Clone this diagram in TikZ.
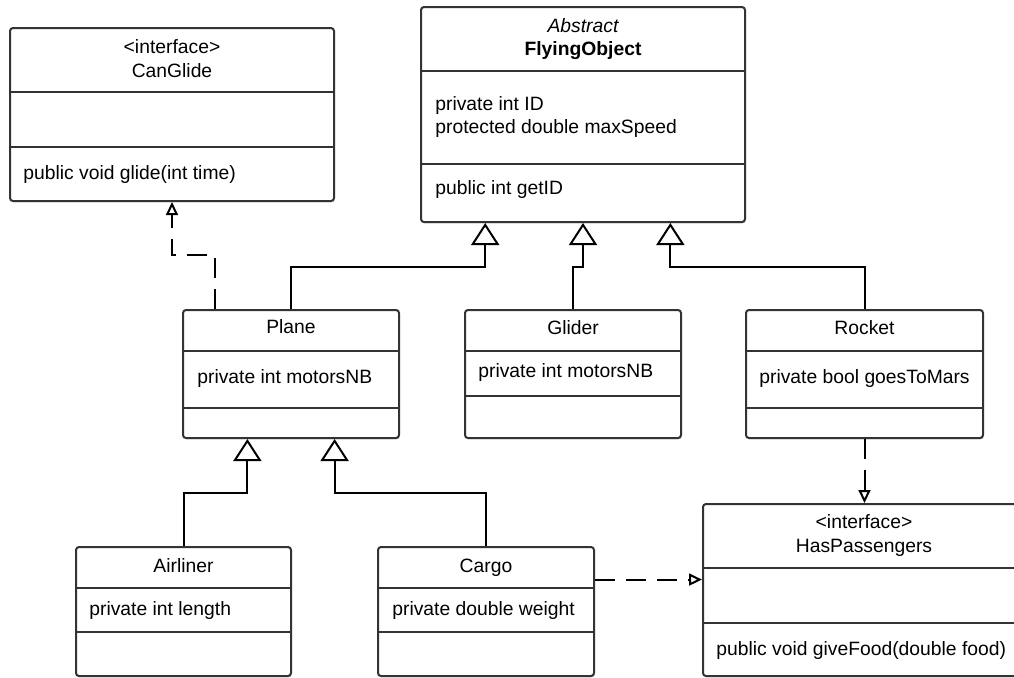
\documentclass[tikz,border=0pt]{standalone}
\usepackage{fontspec}
\setmainfont{Liberation Sans}
\usetikzlibrary{arrows.meta,fit,calc,shadows}
\definecolor{boxline}{HTML}{333333}
\begin{document}
\begin{tikzpicture}[x=0.5pt,y=-0.5pt,
  every node/.style={font=\fontsize{9.65}{11.75}\selectfont, inner sep=0pt},
  umlbox/.style={draw=boxline, line width=1pt, rounded corners=1.5pt, fill=white, inner sep=0pt,
    drop shadow={shadow xshift=0.3pt, shadow yshift=-0.6pt, opacity=0.35, fill=black}},
  divider/.style={draw=boxline, line width=1pt},
  gen/.style={draw=black, line width=1pt, -{Triangle[open,length=11pt,width=14pt]}},
  real/.style={draw=black, line width=1pt, dash pattern=on 10pt off 5.5pt, -{Triangle[open,length=6.5pt,width=6pt]}},
  ctitle/.style={anchor=base},
  member/.style={anchor=base west},
]
\useasboundingbox (0,0) rectangle (1014,677);

% ---------- boxes ----------
\node[umlbox, fit={(10,28) (334,201)}] (canglide) {};
\node[umlbox, fit={(421,7) (745,222)}] (flying) {};
\node[umlbox, fit={(183,310) (399,438)}] (plane) {};
\node[umlbox, fit={(465,310) (681,438)}] (glider) {};
\node[umlbox, fit={(746,310) (983,438)}] (rocket) {};
\node[umlbox, fit={(76,547) (291,676)}] (airliner) {};
\node[umlbox, fit={(378,547) (594,676)}] (cargo) {};
\node[umlbox, fit={(703,504) (1025,676)}] (hasp) {};

% ---------- dividers ----------
\draw[divider] (canglide.west |- 0,92) -- (canglide.east |- 0,92);
\draw[divider] (canglide.west |- 0,147) -- (canglide.east |- 0,147);
\draw[divider] (flying.west |- 0,71) -- (flying.east |- 0,71);
\draw[divider] (flying.west |- 0,164) -- (flying.east |- 0,164);
\draw[divider] (plane.west |- 0,351) -- (plane.east |- 0,351);
\draw[divider] (plane.west |- 0,408) -- (plane.east |- 0,408);
\draw[divider] (glider.west |- 0,351) -- (glider.east |- 0,351);
\draw[divider] (glider.west |- 0,396) -- (glider.east |- 0,396);
\draw[divider] (rocket.west |- 0,351) -- (rocket.east |- 0,351);
\draw[divider] (rocket.west |- 0,408) -- (rocket.east |- 0,408);
\draw[divider] (airliner.west |- 0,588) -- (airliner.east |- 0,588);
\draw[divider] (airliner.west |- 0,632) -- (airliner.east |- 0,632);
\draw[divider] (cargo.west |- 0,588) -- (cargo.east |- 0,588);
\draw[divider] (cargo.west |- 0,632) -- (cargo.east |- 0,632);
\draw[divider] (hasp.west |- 0,568) -- (hasp.east |- 0,568);
\draw[divider] (hasp.west |- 0,623) -- (hasp.east |- 0,623);

% ---------- texts ----------
\node[ctitle] (canglide-s) at (canglide.north |- 0,53) {<interface>};
\node[ctitle] (canglide-n) at (canglide.north |- 0,77) {CanGlide};
\node[member] (canglide-m1) at (23,179) {public void glide(int time)};

\node[ctitle] (flying-s) at (flying.north |- 0,32) {\itshape Abstract};
\node[ctitle] (flying-n) at (flying.north |- 0,55) {\bfseries FlyingObject};
\node[member] (flying-a1) at (435,110) {private int ID};
\node[member] (flying-a2) at (435,133) {protected double maxSpeed};
\node[member] (flying-m1) at (435,194) {public int getID};

\node[ctitle] (plane-n) at (plane.north |- 0,333) {Plane};
\node[member] (plane-a1) at (197,383) {private int motorsNB};

\node[ctitle] (glider-n) at (glider.north |- 0,334) {Glider};
\node[member] (glider-a1) at (478,377) {private int motorsNB};

\node[ctitle] (rocket-n) at (rocket.north |- 0,334) {Rocket};
\node[member] (rocket-a1) at (759,383) {private bool goesToMars};

\node[ctitle] (airliner-n) at (airliner.north |- 0,572) {Airliner};
\node[member] (airliner-a1) at (89,615) {private int length};

\node[ctitle] (cargo-n) at (cargo.north |- 0,572) {Cargo};
\node[member] (cargo-a1) at (392,615) {private double weight};

\node[ctitle] (hasp-s) at (hasp.north |- 0,528) {<interface>};
\node[ctitle] (hasp-n) at (hasp.north |- 0,552) {HasPassengers};
\node[member] (hasp-m1) at (716,655) {public void giveFood(double food)};

% ---------- connectors ----------
\coordinate (lvl1) at (0,267);
\coordinate (lvl2) at (0,493);
\coordinate (lvl3) at (0,255);
\coordinate (fo-a) at ($(flying.south west)!0.2!(flying.south east)$);
\coordinate (fo-c) at ($(flying.south west)!0.768!(flying.south east)$);
\coordinate (pl-a) at ($(plane.south west)!0.3!(plane.south east)$);
\coordinate (pl-b) at ($(plane.south west)!0.7!(plane.south east)$);
\coordinate (pl-r) at ($(plane.north west)!0.153!(plane.north east)$);
\coordinate (cg-r) at ($(cargo.north east)!0.256!(cargo.south east)$);

\draw[gen] (plane.north) |- (fo-a |- lvl1) -- (fo-a);
\draw[gen] (glider.north) |- (flying.south |- lvl1) -- (flying.south);
\draw[gen] (rocket.north) |- (fo-c |- lvl1) -- (fo-c);
\draw[gen] (airliner.north) |- (pl-a |- lvl2) -- (pl-a);
\draw[gen] (cargo.north) |- (pl-b |- lvl2) -- (pl-b);

\draw[real] (pl-r) |- (canglide.south |- lvl3) -- (canglide.south);
\draw[real] (rocket.south) -- (rocket.south |- hasp.north);
\draw[real] (cg-r) -- (cg-r -| hasp.west);
\end{tikzpicture}
\end{document}
